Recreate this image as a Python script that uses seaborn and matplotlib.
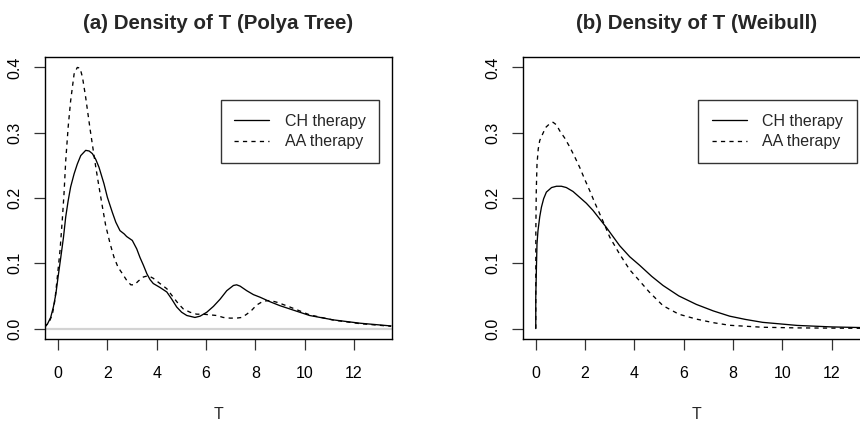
import matplotlib
matplotlib.use("Agg")
import matplotlib.pyplot as plt
import seaborn as sns
import pandas as pd

# ---- data ----
titles = ["(a) Density of T (Polya Tree)", "(b) Density of T (Weibull)"]
series_labels = ["CH therapy", "AA therapy"]
x_ticks = [0, 2, 4, 6, 8, 10, 12]
y_ticks = [0.0, 0.1, 0.2, 0.3, 0.4]

# (a) Polya tree, CH therapy
pt_ch_x = [-0.55, -0.43, -0.30, -0.19, -0.09, 0.0, 0.11, 0.22, 0.31, 0.41, 0.51, 0.65, 0.78,
           0.92, 1.12, 1.26, 1.39, 1.53, 1.66, 1.86, 2.0, 2.20, 2.34, 2.51, 2.68, 2.78, 3.01,
           3.19, 3.32, 3.46, 3.6, 3.73, 3.86, 4.13, 4.41, 4.61, 4.81, 5.01, 5.22, 5.55, 5.76,
           6.03, 6.30, 6.57, 6.84, 7.11, 7.24, 7.38, 7.65, 7.92, 8.19, 8.6, 9.0, 9.4, 10.2,
           11.16, 12.24, 13.5]
pt_ch_y = [0.002, 0.007, 0.017, 0.033, 0.053, 0.079, 0.109, 0.140, 0.171, 0.196, 0.217, 0.237,
           0.252, 0.265, 0.273, 0.272, 0.268, 0.259, 0.247, 0.222, 0.201, 0.178, 0.163, 0.150,
           0.145, 0.141, 0.135, 0.122, 0.109, 0.097, 0.084, 0.075, 0.069, 0.063, 0.056, 0.045,
           0.033, 0.025, 0.020, 0.017, 0.019, 0.025, 0.034, 0.045, 0.058, 0.066, 0.067, 0.065,
           0.058, 0.052, 0.048, 0.041, 0.035, 0.030, 0.020, 0.0133, 0.0082, 0.004]

# (a) Polya tree, AA therapy
pt_aa_x = [-0.55, -0.36, -0.23, -0.13, -0.03, 0.08, 0.17, 0.24, 0.31, 0.41, 0.51, 0.65, 0.78,
           0.89, 0.99, 1.12, 1.30, 1.53, 1.66, 1.80, 1.93, 2.11, 2.27, 2.43, 2.61, 2.78, 2.95,
           3.10, 3.26, 3.46, 3.66, 3.86, 4.13, 4.41, 4.67, 4.88, 5.08, 5.35, 5.62, 5.89, 6.16,
           6.43, 6.70, 6.97, 7.24, 7.45, 7.65, 7.85, 8.05, 8.32, 8.6, 8.9, 9.4, 10.2, 11.16,
           12.24, 13.5]
pt_aa_y = [0.002, 0.010, 0.022, 0.043, 0.079, 0.120, 0.166, 0.206, 0.257, 0.309, 0.349, 0.390,
           0.400, 0.399, 0.385, 0.354, 0.305, 0.247, 0.217, 0.186, 0.158, 0.130, 0.109, 0.094,
           0.084, 0.074, 0.067, 0.067, 0.073, 0.079, 0.081, 0.077, 0.069, 0.061, 0.048, 0.038,
           0.030, 0.025, 0.022, 0.022, 0.021, 0.020, 0.017, 0.016, 0.016, 0.017, 0.022, 0.028,
           0.036, 0.042, 0.043, 0.040, 0.033, 0.021, 0.013, 0.0075, 0.0035]

# (b) Weibull, CH therapy
wb_ch_x = [0.0, 0.0, 0.03, 0.05, 0.09, 0.16, 0.23, 0.32, 0.43, 0.64, 0.84, 1.04, 1.24, 1.51,
           1.78, 2.05, 2.32, 2.59, 2.86, 3.13, 3.40, 3.81, 4.21, 4.7, 5.16, 5.8, 6.51, 7.2,
           7.86, 8.5, 9.2, 10.6, 12.0, 13.6]
wb_ch_y = [0.0, 0.048, 0.099, 0.130, 0.150, 0.171, 0.186, 0.199, 0.209, 0.216, 0.218, 0.218,
           0.216, 0.210, 0.201, 0.192, 0.181, 0.168, 0.155, 0.141, 0.127, 0.110, 0.097, 0.080,
           0.066, 0.050, 0.037, 0.027, 0.019, 0.014, 0.0095, 0.0048, 0.0025, 0.0012]

# (b) Weibull, AA therapy
wb_aa_x = [0.0, 0.003, 0.02, 0.05, 0.10, 0.16, 0.23, 0.40, 0.57, 0.70, 0.84, 0.97, 1.17, 1.38,
           1.58, 1.78, 1.98, 2.19, 2.39, 2.59, 2.8, 3.0, 3.2, 3.40, 3.81, 4.14, 4.6, 5.16, 5.8,
           6.51, 7.2, 7.86, 9.2, 10.6, 13.6]
wb_aa_y = [0.0, 0.15, 0.21, 0.252, 0.275, 0.288, 0.294, 0.308, 0.314, 0.316, 0.312, 0.303,
           0.292, 0.278, 0.263, 0.247, 0.229, 0.211, 0.193, 0.176, 0.158, 0.140, 0.127, 0.114,
           0.090, 0.076, 0.056, 0.035, 0.022, 0.0145, 0.009, 0.005, 0.002, 0.001, 0.0003]

# ---- style ----
sns.set_theme(style="ticks")
plt.rcParams["font.family"] = ["Liberation Sans", "DejaVu Sans"]
plt.rcParams["axes.linewidth"] = 1.0

W, H = 860, 425
fig = plt.figure(figsize=(W / 100, H / 100), dpi=100)

ax_w, ax_h = 347, 282
axes = [
    fig.add_axes([45 / W, (H - 339) / H, ax_w / W, ax_h / H]),
    fig.add_axes([522.7 / W, (H - 339) / H, ax_w / W, ax_h / H]),
]

panels = [
    (pt_ch_x, pt_ch_y, pt_aa_x, pt_aa_y),
    (wb_ch_x, wb_ch_y, wb_aa_x, wb_aa_y),
]

FS = 11.5
DASH = [3.2, 3.2]

for i, (ax, (cx, cy, ax_x, ax_y)) in enumerate(zip(axes, panels)):
    if i == 0:
        ax.axhline(0, color="#d3d3d3", lw=1.6, zorder=1)
    df_ch = pd.DataFrame({"T": cx, "d": cy})
    df_aa = pd.DataFrame({"T": ax_x, "d": ax_y})
    sns.lineplot(data=df_ch, x="T", y="d", ax=ax, color="black", lw=0.95,
                 estimator=None, sort=False, label=series_labels[0])
    sns.lineplot(data=df_aa, x="T", y="d", ax=ax, color="black", lw=0.95,
                 estimator=None, sort=False, label=series_labels[1])
    ax.lines[-1].set_dashes(DASH)

    ax.set_xlim(-0.53, 13.54)
    ax.set_ylim(-0.016, 0.416)
    ax.set_xticks(x_ticks)
    ax.set_xticklabels([str(t) for t in x_ticks], fontsize=FS)
    ax.set_yticks(y_ticks)
    ax.set_yticklabels([f"{t:.1f}" for t in y_ticks], fontsize=FS,
                       rotation=90, va="center")
    ax.tick_params(axis="both", direction="out", length=8, width=0.9,
                   color="#333333", labelcolor="black")
    ax.tick_params(axis="x", pad=11.5)
    ax.tick_params(axis="y", pad=8)
    ax.set_xlabel("T", fontsize=FS, labelpad=19)
    ax.set_ylabel("")
    ax.set_title(titles[i], fontsize=14.8, fontweight="bold", pad=20)
    for s in ax.spines.values():
        s.set_color("black")
        s.set_linewidth(1.0)
    ax.set_facecolor("white")

    leg = ax.legend(loc="upper right", bbox_to_anchor=(0.9625, 0.8475),
                    fontsize=FS, frameon=True, fancybox=False,
                    handlelength=2.2, handletextpad=0.95, borderpad=0.85,
                    labelspacing=0.35, borderaxespad=0)
    leg.get_frame().set_edgecolor("black")
    leg.get_frame().set_linewidth(1.0)
    for h in leg.get_lines():
        h.set_color("black")
        h.set_linewidth(0.95)
    leg.get_lines()[1].set_dashes(DASH)

fig.savefig("out.png", dpi=100, facecolor="white")
